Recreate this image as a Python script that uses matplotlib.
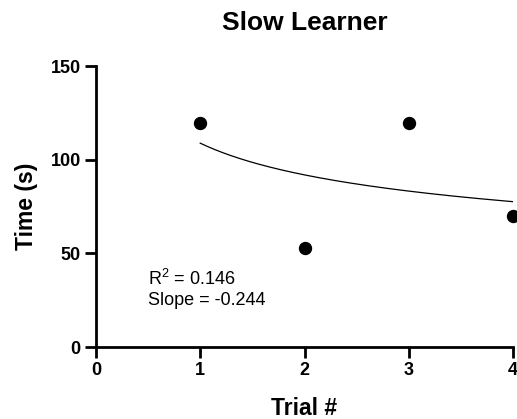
import numpy as np
import matplotlib
matplotlib.use("Agg")
import matplotlib.pyplot as plt

plt.rcParams['font.family'] = ['Liberation Sans', 'DejaVu Sans']

# Data
trial = [1, 2, 3, 4]
time_s = [120, 53, 120, 70]

# Power-law fit parameters (as shown on chart)
fit_a = 109.0
fit_b = -0.244
r_squared = 0.146

xticks = [0, 1, 2, 3, 4]
yticks = [0, 50, 100, 150]

fig = plt.figure(figsize=(5.17, 4.19), dpi=100)
ax = fig.add_axes([96/517, 1-347/419, (513-96)/517, (347-66.5)/419])

xf = np.linspace(min(trial), max(trial), 200)
ax.plot(xf, fit_a * xf ** fit_b, color='black', lw=0.9, zorder=2)
ax.plot(trial, time_s, 'o', color='black', markersize=8.6, zorder=3, clip_on=False)

ax.set_xlim(0, 4)
ax.set_ylim(0, 150)
ax.set_xticks(xticks)
ax.set_yticks(yticks)
for s in ['top', 'right']:
    ax.spines[s].set_visible(False)
for s in ['left', 'bottom']:
    ax.spines[s].set_linewidth(2.0)
ax.tick_params(direction='out', length=8, width=2.0, labelsize=13, pad=3)
for lab in ax.get_xticklabels() + ax.get_yticklabels():
    lab.set_fontweight('bold')

ax.set_xlabel('Trial #', fontsize=16.5, fontweight='bold', labelpad=13)
ax.set_ylabel('Time (s)', fontsize=16.5, fontweight='bold', labelpad=9)
fig.text(304.5/517, 1-30/419, 'Slow Learner', fontsize=19, fontweight='bold',
         ha='center', va='baseline')

ax.text(0.5, 31, '$\\mathregular{R^2}$ = %.3f\nSlope = %.3f' % (r_squared, fit_b),
        fontsize=13, ha='left', va='center', linespacing=1.25)

fig.savefig('out.png', dpi=100)
